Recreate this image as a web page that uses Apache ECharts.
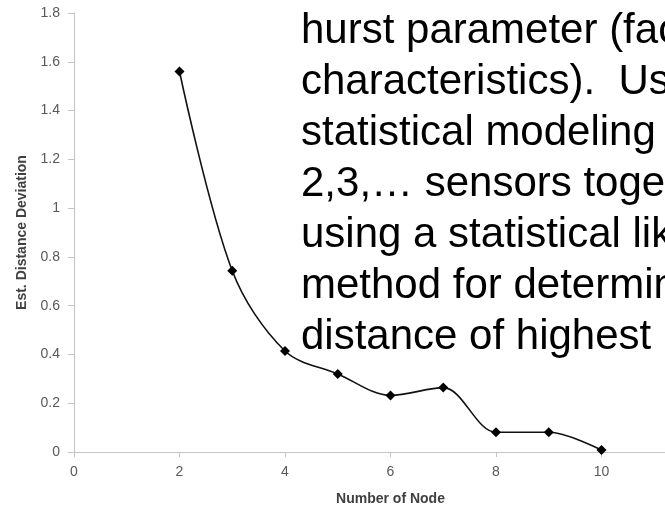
<!DOCTYPE html>
<html>
<head>
<meta charset="utf-8">
<script src="https://cdn.jsdelivr.net/npm/echarts@6/dist/echarts.min.js"></script>
<style>
  html, body { margin: 0; padding: 0; background: #fff; }
  #chart { width: 665px; height: 506px; }
</style>
</head>
<body>
<div id="chart"></div>
<script>
// data
const nodes = [2, 3, 4, 5, 6, 7, 8, 9, 10]
const deviation = [1.56, 0.743, 0.414, 0.32, 0.232, 0.264, 0.081, 0.081, 0.008]
const yTicks = { min: 0, max: 1.8, step: 0.2 }
const xTicks = { min: 0, max: 12, step: 2 }

// slide text that sits over the chart (cut off on the right)
const slideLines = [
  'hurst parameter (factor',
  'characteristics).  Using',
  'statistical modeling of',
  '2,3,\u2026 sensors together',
  'using a statistical likel',
  'method for determining',
  'distance of highest'
]

const axisGray = '#c4c4c4'
const labelGray = '#595959'
const font = 'Liberation Sans, Arial, sans-serif'

const chart = echarts.init(document.getElementById('chart'))

chart.setOption({
  animation: false,
  grid: { left: 74, top: 13, width: 633, height: 439, outerBoundsMode: 'none', containLabel: false },
  xAxis: {
    type: 'value',
    min: xTicks.min,
    max: xTicks.max,
    interval: xTicks.step,
    name: 'Number of Node',
    nameLocation: 'middle',
    nameGap: 40,
    nameTextStyle: { fontFamily: font, fontSize: 14, fontWeight: 'bold', color: '#404040' },
    axisLine: { lineStyle: { color: axisGray, width: 1 } },
    axisTick: { length: 5, lineStyle: { color: axisGray } },
    axisLabel: { margin: 13, fontFamily: font, fontSize: 14, color: labelGray },
    splitLine: { show: false }
  },
  yAxis: {
    type: 'value',
    min: yTicks.min,
    max: yTicks.max,
    interval: yTicks.step,
    name: 'Est. Distance Deviation',
    nameLocation: 'middle',
    nameGap: 45,
    nameTextStyle: { fontFamily: font, fontSize: 14, fontWeight: 'bold', color: '#404040' },
    axisLine: { show: true, lineStyle: { color: axisGray, width: 1 } },
    axisTick: { show: true, length: 6, lineStyle: { color: axisGray } },
    axisLabel: { margin: 14, fontFamily: font, fontSize: 14, color: labelGray },
    splitLine: { show: false }
  },
  series: [
    {
      type: 'line',
      data: nodes.map((n, i) => [n, deviation[i]]),
      smooth: 0.33,
      symbol: 'diamond',
      symbolSize: 10,
      itemStyle: { color: '#000' },
      lineStyle: { color: '#111', width: 1.6 },
      z: 2
    }
  ],
  graphic: [
    {
      type: 'text',
      left: 301,
      top: 6,
      z: 100,
      style: {
        text: slideLines.join('\n'),
        font: '42px ' + font,
        lineHeight: 51,
        fill: '#000'
      }
    }
  ]
})
</script>
</body>
</html>
